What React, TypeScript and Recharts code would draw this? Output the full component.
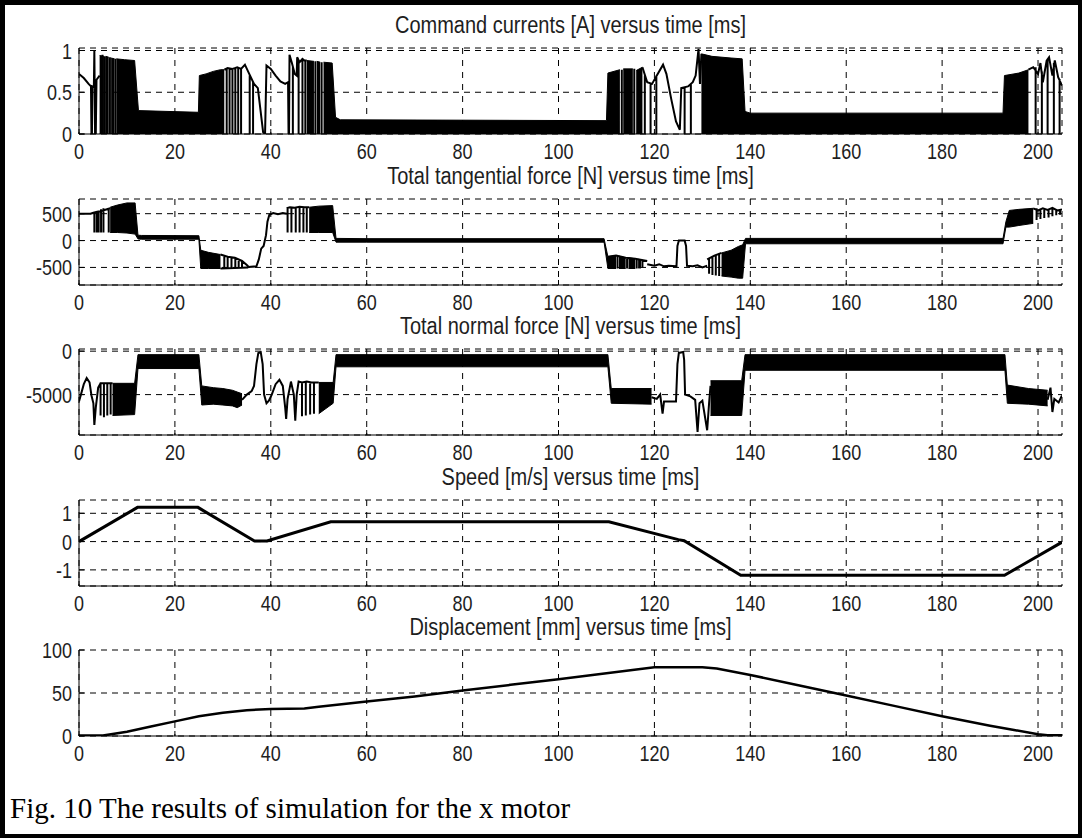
import React from 'react';
import { ComposedChart, Line, Area, XAxis, YAxis, CartesianGrid } from 'recharts';

const timeTicks = [0, 20, 40, 60, 80, 100, 120, 140, 160, 180, 200];

// ---- Command currents [A]
const currentTicks = [0, 0.5, 1];
const currentDomain = [0, 1.03];
const currentTrace = [
  [[0, 0.72], [1, 0.67], [2, 0.6], [2.5, 0.57], [2.6, 0], [2.7, 0], [2.8, 0.57], [3.1, 0.56], [3.2, 1.0], [3.35, 0], [3.5, 0], [3.65, 0.65], [4.3, 0.7]],
  [[30.3, 0.77], [31, 0.79], [32, 0.78], [33, 0.8], [33.8, 0.78], [34.6, 0.83], [35.5, 0.72], [36.5, 0.6], [37.3, 0.55], [38.4, 0.02], [38.8, 0], [39.1, 0.82], [40, 0.78], [41, 0.7], [42, 0.63], [43, 0.6], [43.6, 0.62], [43.7, 0], [43.8, 0], [43.9, 0.95], [44.4, 0.85], [45, 0.72], [45.4, 0.7], [45.5, 0.92], [46, 0.86], [46.6, 0.9], [47, 0.88], [47.5, 0.88]],
  [[117.5, 0.8], [118.5, 0.62], [119.5, 0.6], [120.5, 0.7], [121.8, 0.83], [122.5, 0.72], [123.5, 0.42], [124.5, 0.15], [125.3, 0.05], [125.6, 0.55], [127, 0.57], [128, 0.62], [128.6, 0.7], [129.2, 1.02], [129.5, 0.6], [129.8, 0.96]],
  [[198, 0.77], [199, 0.8], [200, 0.72], [200.5, 0.85], [201, 0.62], [201.8, 0.88], [202.3, 0.92], [203, 0.7], [203.5, 0.88], [204.2, 0.68], [205, 0.58]],
];
const currentSpikes = [
  [4.9, 0, 0.95], [5.4, 0, 0.93], [6.45, 0, 0.92], [7.6, 0, 0.9], [30.8, 0, 0.78], [31.4, 0, 0.79], [32, 0, 0.78], [32.6, 0, 0.8], [33.2, 0, 0.79], [33.8, 0, 0.78], [35.6, 0, 0.7], [36.3, 0, 0.62],
  [44.6, 0, 0.8], [45.8, 0, 0.88], [46.6, 0, 0.9], [47.2, 0, 0.88], [49.3, 0, 0.87], [50.6, 0, 0.86], [113.2, 0, 0.77], [115.8, 0, 0.78], [118, 0, 0.7], [119.2, 0, 0.6], [120.4, 0, 0.7],
  [126.3, 0, 0.56], [127.6, 0, 0.6], [199.5, 0, 0.8], [200.8, 0, 0.75], [202, 0, 0.9], [203.3, 0, 0.85], [204.5, 0, 0.66],
];
const currentBands = [
  [[4.3, 0, 0.94], [5.2, 0, 0.93]],
  [[5.6, 0, 0.93], [6.2, 0, 0.92]],
  [[6.7, 0, 0.91], [7.4, 0, 0.9]],
  [[7.8, 0, 0.9], [9.5, 0, 0.89], [11.6, 0, 0.88], [12.4, 0, 0.28], [24.9, 0, 0.26], [25.1, 0, 0.7], [26.5, 0, 0.72], [28, 0, 0.75], [29.5, 0, 0.77], [30.3, 0, 0.77]],
  [[47.5, 0, 0.88], [49, 0, 0.87]],
  [[49.6, 0, 0.87], [50.3, 0, 0.86]],
  [[51, 0, 0.86], [52.8, 0, 0.85], [53.5, 0, 0.2], [54.5, 0, 0.17], [110, 0, 0.16], [110.3, 0, 0.73], [112.8, 0, 0.77]],
  [[113.5, 0, 0.78], [115.5, 0, 0.78]],
  [[116.2, 0, 0.76], [117.5, 0, 0.8]],
  [[129.8, 0, 0.96], [132, 0, 0.93], [136, 0, 0.91], [138.3, 0, 0.9], [138.9, 0, 0.27], [140, 0, 0.25], [192.7, 0, 0.25], [193, 0, 0.7], [196, 0, 0.73], [198, 0, 0.77]],
];

// ---- Total tangential force [N]
const tanTicks = [-500, 0, 500];
const tanDomain = [-827, 773];
const tanTrace = [
  [[0, 500], [2.4, 500], [3, 520], [4, 540], [5, 560], [6.5, 600]],
  [[29.5, -260], [31, -300], [32.5, -320], [34, -380], [35.3, -480]],
  [[29.5, -520], [35.3, -500]],
  [[35.3, -490], [37, -480], [37.5, -350], [38, -150], [38.5, -100], [39, 100], [39.3, 350], [39.7, 480], [40.5, 510], [41.5, 490], [42.5, 510], [43.3, 500]],
  [[43.3, 600], [44, 620], [45, 610], [46, 630], [47, 620], [48, 620]],
  [[110.3, -300], [112, -280], [114, -320], [116, -340], [118.5, -380]],
  [[118.5, -440], [120, -470], [121, -440], [122, -480], [123, -470], [124.6, -480], [124.8, -100], [125.1, 0], [126.3, 0], [126.6, -100], [126.8, -470], [128, -480], [129, -460], [130, -500], [131, -470]],
  [[131, -350], [132.5, -280], [134, -230]],
  [[199, 600], [200, 560], [201, 600], [202, 570], [203, 610], [204, 560], [205, 580]],
];
const tanSpikes = [
  [3.2, 150, 530], [3.7, 150, 540], [4.1, 150, 560], [4.6, 150, 580], [5.1, 150, 600], [6.2, 150, 610],
  [30.3, -520, -280], [31, -520, -300], [31.8, -520, -310], [32.6, -520, -320], [33.3, -520, -350], [34, -520, -380],
  [43.5, 150, 600], [44.3, 150, 620], [45.2, 150, 610], [46, 150, 630], [46.8, 150, 620], [47.5, 150, 620],
  [112.3, -520, -280], [114.3, -520, -320], [116.3, -520, -340], [117.5, -500, -360],
  [131.4, -620, -330], [132.1, -640, -300], [132.8, -650, -270], [133.5, -660, -240],
  [199.7, 380, 600], [200.5, 400, 580], [201.3, 420, 600], [202.2, 430, 590], [203, 450, 610], [203.8, 470, 570], [204.6, 480, 580],
];
const tanBands = [
  [[6.5, 150, 620], [8, 150, 660], [10, 140, 700], [11.7, 120, 700], [12.3, 30, 100], [13, 25, 95], [25, 25, 90], [25.4, -520, -180], [27, -520, -220], [29.5, -520, -260]],
  [[48, 150, 620], [50, 150, 640], [52.9, 150, 650], [53.6, -30, 40], [60, -30, 35], [109.5, -30, 35], [110.3, -520, -300], [112, -520, -280]],
  [[112.6, -520, -290], [114, -520, -320]],
  [[114.6, -520, -320], [116, -520, -340]],
  [[116.6, -510, -350], [117.2, -510, -360]],
  [[134, -660, -230], [136, -680, -180], [137.5, -700, -110], [138.4, -700, -80], [139, -60, 40], [192.7, -60, 40], [193.3, 250, 350], [194, 250, 560], [196, 280, 580], [199, 320, 600]],
];

// ---- Total normal force [N]
const normTicks = [-5000, 0];
const normDomain = [-9650, 250];
const normTrace = [
  [[0, -5800], [0.5, -4800], [1, -3800], [1.6, -3100], [2.2, -3600], [2.6, -5100], [3, -6000], [3.2, -8500], [3.5, -6500], [4, -4200], [4.5, -3700], [7, -3700]],
  [[34, -5600], [35, -5000], [36, -4600], [36.5, -4000], [37, -1500], [37.4, -200], [37.9, -100], [38.3, -1500], [38.6, -5000], [39.1, -6000], [39.6, -5700], [40.2, -5000], [41, -3800], [41.8, -3300], [42.5, -4000], [43, -6500], [43.2, -7800], [43.5, -5500], [44.2, -3500], [44.8, -5000], [45.1, -8000], [45.4, -5000], [45.8, -3500], [46.5, -3600], [47.5, -3500], [48.5, -3600], [50, -3600]],
  [[119.4, -5300], [120.5, -5500], [121.2, -5000], [121.7, -7200], [122, -5800], [124.5, -5800], [124.8, -1500], [125.1, -200], [126, -100], [126.2, -1000], [126.4, -5000], [127.5, -5200], [128.5, -5600], [129, -9300], [129.4, -6000], [130, -5700], [131, -9100], [131.4, -6000], [131.7, -4000]],
  [[202, -5600], [202.6, -4200], [203, -7000], [203.4, -5500], [204.3, -5900], [205, -5100]],
];
const normSpikes = [
  [4.5, -7400, -3600], [5.2, -7600, -3600], [5.9, -7400, -3700], [6.6, -7300, -3600],
  [46.5, -7500, -3600], [47.3, -7400, -3600], [48.2, -7300, -3600], [49, -7200, -3600],
];
const normBands = [
  [[7, -7400, -3700], [11.6, -7300, -3700], [12.3, -2000, -400], [25, -2000, -400], [25.6, -6200, -4000], [28, -6100, -4200], [30, -6200, -4300], [32, -6300, -4500], [33, -6500, -4700], [34, -6200, -4900]],
  [[50, -7200, -3600], [53, -6000, -3600], [53.6, -1800, -400], [110.3, -1800, -400], [111, -6000, -4300], [119.4, -6100, -4300]],
  [[131.7, -7400, -3400], [138.2, -7400, -3400], [138.9, -2200, -400], [193.1, -2200, -400], [193.6, -6000, -3900], [198, -6100, -4300], [202, -6300, -4500]],
];

// ---- Speed [m/s]
const speedTicks = [-1, 0, 1];
const speedDomain = [-1.57, 1.47];
const speedTrace = [
  [[0, 0], [12.2, 1.21], [24.8, 1.21], [36.6, 0.02], [39.2, 0.02], [52.5, 0.7], [110.5, 0.7], [125, 0.07], [126.2, 0.03], [138, -1.19], [193, -1.19], [205, -0.02]],
];

// ---- Displacement [mm]
const dispTicks = [0, 50, 100];
const dispDomain = [0, 100];
const dispTrace = [
  [[0, 0.5], [5, 0.5], [10, 5], [15, 11], [20, 17], [25, 23], [30, 27], [35, 30], [40, 31.5], [47, 32], [50, 34], [60, 40], [70, 46], [80, 53], [90, 59.5], [100, 66], [110, 73], [120, 80], [130, 80], [133, 78.5], [140, 71], [150, 59], [160, 47], [170, 35], [180, 23], [190, 12], [195, 7], [200, 2], [202, 0.8], [205, 0.8]],
];

const titles = [
  'Command currents [A] versus time [ms]',
  'Total tangential force [N] versus time [ms]',
  'Total normal force [N] versus time [ms]',
  'Speed [m/s] versus time [ms]',
  'Displacement [mm] versus time [ms]',
];
const caption = 'Fig. 10 The results of simulation for the x motor';

type Pt = { t: number; v: number | null };

function buildTrace(segs: number[][][], spikes: number[][]): Pt[] {
  const out: Pt[] = [];
  segs.forEach((s) => {
    s.forEach(([t, v]) => out.push({ t, v }));
    out.push({ t: s[s.length - 1][0], v: null });
  });
  spikes.forEach(([t, lo, hi]) => {
    out.push({ t, v: lo });
    out.push({ t, v: hi });
    out.push({ t, v: null });
  });
  return out;
}

function buildBands(bands: number[][][]) {
  return bands.map((b) => b.map(([t, lo, hi]) => ({ t, lo, hi })));
}

const FONT = '"Liberation Sans", Arial, Helvetica, sans-serif';
const TXT = '#1e1e1e';

const XTick = (props: any) => {
  const { x, y, payload } = props;
  return (
    <text transform={`translate(${x},${y + 25}) scale(1,1.2)`} textAnchor="middle" fontSize={18} fill={TXT} fontFamily={FONT}>
      {payload.value}
    </text>
  );
};
const YTick = (props: any) => {
  const { x, y, payload } = props;
  return (
    <text transform={`translate(${x - 7},${y + 8}) scale(1,1.2)`} textAnchor="end" fontSize={18} fill={TXT} fontFamily={FONT}>
      {payload.value}
    </text>
  );
};
const EmptyTick = () => <g />;

const panels = [
  { domain: currentDomain, ticks: currentTicks, trace: buildTrace(currentTrace, currentSpikes), bands: buildBands(currentBands), lw: 2 },
  { domain: tanDomain, ticks: tanTicks, trace: buildTrace(tanTrace, tanSpikes), bands: buildBands(tanBands), lw: 2 },
  { domain: normDomain, ticks: normTicks, trace: buildTrace(normTrace, normSpikes), bands: buildBands(normBands), lw: 2 },
  { domain: speedDomain, ticks: speedTicks, trace: buildTrace(speedTrace, []), bands: [], lw: 3 },
  { domain: dispDomain, ticks: dispTicks, trace: buildTrace(dispTrace, []), bands: [], lw: 2.5 },
];

const PLOT_TOP = 48;
const PERIOD = 150.5;
const PLOT_H = 86;
const M_TOP = 20;

function Panel({ p, top }: { p: any; top: number }) {
  const axisProps = {
    stroke: '#000',
    tickLine: { stroke: '#000' },
    axisLine: { stroke: '#000' },
    tickSize: -5,
    tickMargin: 5,
    allowDataOverflow: true,
    interval: 0 as const,
    type: 'number' as const,
  };
  return (
    <div style={{ position: 'absolute', left: 0, top: top - M_TOP }}>
      <ComposedChart width={1082} height={M_TOP + PLOT_H + 44} margin={{ top: M_TOP, right: 20, bottom: 14, left: 19 }}>
        <CartesianGrid horizontal vertical={false} stroke="#000" strokeDasharray="6 5" />
        <CartesianGrid horizontal={false} vertical stroke="#000" strokeDasharray="6 6" />
        <XAxis xAxisId={0} dataKey="t" domain={[0, 205]} ticks={timeTicks} tick={<XTick />} height={30} {...axisProps} />
        <XAxis xAxisId="top" orientation="top" dataKey="t" domain={[0, 205]} ticks={timeTicks} tick={<EmptyTick />} height={0} {...axisProps} />
        <YAxis yAxisId={0} domain={p.domain} ticks={p.ticks} tick={<YTick />} width={60} {...axisProps} />
        <YAxis yAxisId="right" orientation="right" domain={p.domain} ticks={p.ticks} tick={<EmptyTick />} width={0} {...axisProps} />
        {p.bands.map((b: any, i: number) => (
          <Area
            key={i}
            data={b}
            dataKey={(d: any) => [d.lo, d.hi]}
            type="linear"
            stroke="#000"
            strokeWidth={1}
            fill="#000"
            fillOpacity={1}
            dot={false}
            activeDot={false}
            isAnimationActive={false}
          />
        ))}
        <Line data={p.trace} dataKey="v" type="linear" stroke="#000" strokeWidth={p.lw} dot={false} activeDot={false} isAnimationActive={false} connectNulls={false} />
      </ComposedChart>
    </div>
  );
}

export default function App() {
  return (
    <div style={{ position: 'absolute', left: 0, top: 0, width: 1082, height: 838, background: '#fff', boxSizing: 'border-box', borderStyle: 'solid', borderColor: '#000', borderWidth: '5px 4px 4px 5px', overflow: 'hidden' }}>
      <div style={{ position: 'absolute', left: -5, top: -5, width: 1082, height: 838 }}>
        {panels.map((p, i) => (
          <Panel key={i} p={p} top={PLOT_TOP + PERIOD * i} />
        ))}
        <svg width={1082} height={838} style={{ position: 'absolute', left: 0, top: 0, pointerEvents: 'none' }}>
          {titles.map((t, i) => (
            <text key={i} transform={`translate(570.5,${PLOT_TOP + PERIOD * i - 15}) scale(1,1.15)`} textAnchor="middle" fontSize={20} fill={TXT} fontFamily={FONT}>
              {t}
            </text>
          ))}
          <text x={10} y={818} fontSize={29} fill="#000" fontFamily='"Liberation Serif", "Times New Roman", serif'>
            {caption}
          </text>
        </svg>
      </div>
    </div>
  );
}
